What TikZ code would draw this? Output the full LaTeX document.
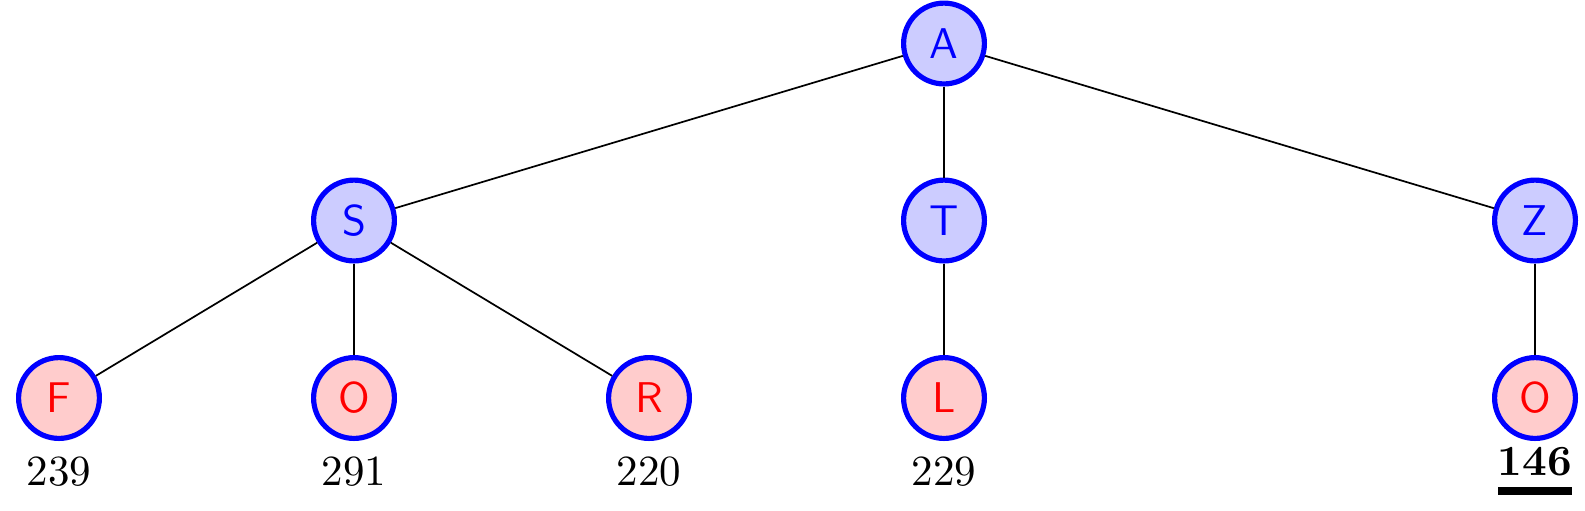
\documentclass[tikz,border=0pt]{standalone}
\usepackage{fontspec}
\begin{document}
\begin{tikzpicture}[x=0.2326pt,y=-0.2326pt,
  inner/.style={circle,draw=blue,line width=1.2pt,fill=blue!20,text=blue,minimum size=18.8pt,inner sep=0pt,font=\sffamily},
  leaf/.style={circle,draw=blue,line width=1.2pt,fill=red!20,text=red,minimum size=18.8pt,inner sep=0pt,font=\sffamily},
  cost/.style={inner sep=0pt}]
\useasboundingbox (0,0) rectangle (1585,510);
\node[inner] (A) at (944,43.5) {A};
\node[inner] (S) at (354,220.5) {S};
\node[inner] (T) at (944,220.5) {T};
\node[inner] (Z) at (1535,220.5) {Z};
\node[leaf] (F) at (59,398) {F};
\node[leaf] (O1) at (354,398) {O};
\node[leaf] (R) at (649,398) {R};
\node[leaf] (L) at (944,398) {L};
\node[leaf] (O2) at (1535,398) {O};
\draw (A) -- (S);
\draw (A) -- (T);
\draw (A) -- (Z);
\draw (S) -- (F);
\draw (S) -- (O1);
\draw (S) -- (R);
\draw (T) -- (L);
\draw (Z) -- (O2);
\node[cost] (cF) at (59,472) {239};
\node[cost] (cO1) at (354,472) {291};
\node[cost] (cR) at (649,472) {220};
\node[cost] (cL) at (944,472) {229};
\node[cost] (cO2) at (1535,462) {\textbf{146}};
\fill (1498,487) rectangle (1572,495);
\end{tikzpicture}
\end{document}
